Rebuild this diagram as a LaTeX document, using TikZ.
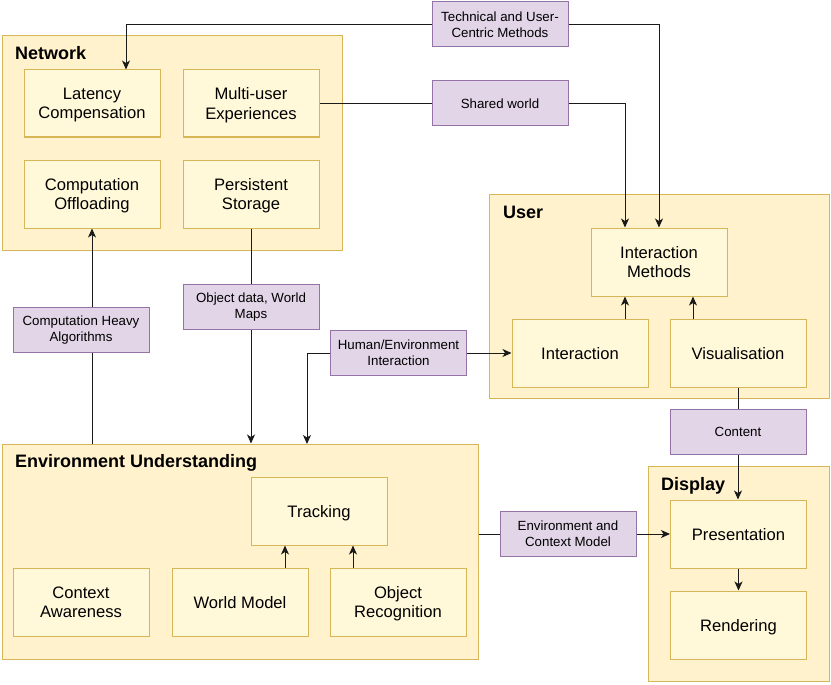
\documentclass[tikz,border=0pt]{standalone}
\usepackage{fontspec}
\setmainfont{Liberation Sans}
\usetikzlibrary{arrows.meta,calc}
\definecolor{contfill}{HTML}{FFF2CC}
\definecolor{contdraw}{HTML}{D6B656}
\definecolor{boxfill}{HTML}{FFF9DA}
\definecolor{labfill}{HTML}{E1D5E7}
\definecolor{labdraw}{HTML}{9673A6}
\definecolor{linecol}{HTML}{1A1A1A}
\begin{document}
\begin{tikzpicture}[x=1pt,y=-1pt,
  container/.style={draw=contdraw,fill=contfill,line width=1pt,inner sep=0pt},
  itembox/.style={draw=contdraw,fill=boxfill,line width=1pt,minimum width=136pt,minimum height=68pt,inner sep=0pt,align=center,text depth=0pt,font=\fontsize{16.6}{19.5}\selectfont},
  labbox/.style={draw=labdraw,fill=labfill,line width=1pt,minimum width=136pt,minimum height=45pt,inner sep=0pt,align=center,font=\fontsize{13.3}{16}\selectfont},
  title/.style={anchor=base west,inner sep=0pt,font=\fontsize{18}{21}\selectfont\bfseries},
  conn/.style={draw=linecol,line width=1pt},
  arr/.style={conn,-{Stealth[length=9pt,width=8pt,inset=2.5pt]}}
]
\useasboundingbox (0,0) rectangle (831,685);
% containers
\node[container,minimum width=340pt,minimum height=214pt] (net) at (172,143) {};
\node[container,minimum width=340pt,minimum height=204pt] (user) at (659,296) {};
\node[container,minimum width=181pt,minimum height=215pt] (disp) at (738.5,573.5) {};
\node[container,minimum width=476pt,minimum height=215pt] (env) at (240,551.5) {};
% titles
\node[title] (tnet) at (15,60) {Network};
\node[title] (tuser) at (503,218) {User};
\node[title] (tdisp) at (661,490) {Display};
\node[title] (tenv) at (15,467) {Environment Understanding};
% network items
\node[itembox,minimum height=67pt] (lat) at (92,103.5) {Latency\\Compensation};
\node[itembox,minimum height=67pt] (multi) at (251,103.5) {Multi-user\\Experiences};
\node[itembox] (comp) at (92,194) {Computation\\Offloading};
\node[itembox] (pers) at (251,194) {Persistent\\Storage};
% user items
\node[itembox] (im) at (659,262) {Interaction\\Methods};
\node[itembox] (inter) at (580,353) {Interaction};
\node[itembox] (vis) at (738,353) {Visualisation};
% display items
\node[itembox] (pres) at (738.5,534) {Presentation};
\node[itembox] (rend) at (738.5,625) {Rendering};
% environment items
\node[itembox] (track) at (319,511) {Tracking};
\node[itembox] (ctx) at (81,602) {Context\\Awareness};
\node[itembox] (wm) at (240,602) {World Model};
\node[itembox] (obj) at (398,602) {Object\\Recognition};
% labels
\node[labbox] (tech) at (500,24.5) {Technical and User-\\Centric Methods};
\node[labbox] (shared) at (500,103.5) {Shared world};
\node[labbox] (cha) at (81,330) {Computation Heavy\\Algorithms};
\node[labbox] (odm) at (251,307) {Object data, World\\Maps};
\node[labbox] (hei) at (398.5,353) {Human/Environment\\Interaction};
\node[labbox] (content) at (738,432) {Content};
\node[labbox] (ecm) at (568,534) {Environment and\\Context Model};
% helper coordinates
\coordinate (latR) at ($(lat.north)+(34,0)$);
\coordinate (imL) at ($(im.north)+(-34,0)$);
\coordinate (imR) at ($(im.north)+(34,0)$);
\coordinate (trL) at ($(track.south)+(-34,0)$);
\coordinate (trR) at ($(track.south)+(34,0)$);
\coordinate (chx) at (92,444);
\coordinate (hex) at (307,444);
% connectors
\draw[conn] (tech.west) -- (tech.west -| latR);
\draw[arr] (tech.west -| latR) -- (latR);
\draw[arr] (tech.east) -| (im.north);
\draw[conn] (multi.east) -- (shared.west);
\draw[arr] (shared.east) -| (imL);
\draw[arr] (inter.north -| imL) -- (im.south -| imL);
\draw[arr] (vis.north -| imR) -- (im.south -| imR);
\draw[conn] (vis.south) -- (content.north);
\draw[arr] (content.south) -- (pres.north -| content.south);
\draw[arr] (pres.south) -- (rend.north);
\draw[conn] (env.east |- ecm.west) -- (ecm.west);
\draw[arr] (ecm.east) -- (pres.west);
\draw[arr] (wm.north -| trL) -- (trL);
\draw[arr] (obj.north -| trR) -- (trR);
\draw[conn] (chx) -- (cha.south -| chx);
\draw[arr] (cha.north -| chx) -- (comp.south);
\draw[conn] (pers.south) -- (odm.north);
\draw[arr] (odm.south) -- (env.north -| odm.south);
\draw[arr] (hei.west) -| (hex);
\draw[arr] (hei.east) -- (inter.west);
\end{tikzpicture}
\end{document}
